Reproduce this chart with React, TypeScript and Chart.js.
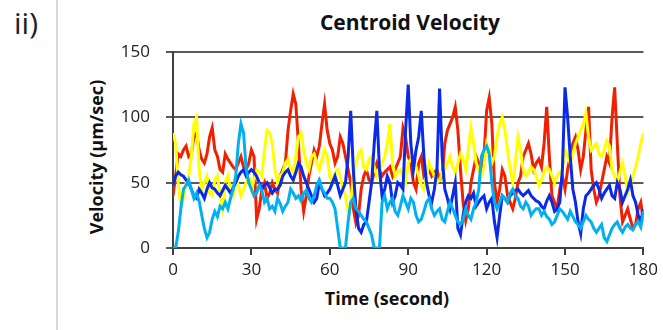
import React, { useEffect, useRef } from "react";
import { Chart, registerables } from "chart.js";

Chart.register(...registerables);

const TITLE = "Centroid Velocity";
const PANEL_LABEL = "ii)";
const X_TITLE = "Time (second)";
const Y_TITLE = "Velocity (µm/sec)";

// sample times (seconds), one sample per second
const TIME_S = Array.from({ length: 181 }, (_, i) => i);

const CYAN = [
  0, 0, 12, 30, 45, 48, 52, 45, 38, 42,
  36, 25, 15, 8, 12, 22, 28, 24, 32, 30,
  35, 30, 38, 45, 55, 80, 95, 88, 60, 50,
  45, 40, 42, 48, 44, 35, 38, 30, 32, 28,
  38, 34, 28, 32, 35, 45, 42, 38, 40, 36,
  42, 44, 38, 35, 40, 48, 52, 45, 42, 38,
  38, 35, 30, 15, 0, 0, 0, 20, 35, 38,
  30, 28, 25, 22, 20, 15, 10, 0, 0, 0,
  35, 40, 30, 35, 38, 28, 25, 32, 40, 35,
  30, 38, 35, 25, 20, 22, 28, 35, 38, 30,
  25, 28, 30, 22, 20, 28, 35, 30, 25, 20,
  18, 22, 30, 25, 22, 30, 35, 45, 70, 75,
  78, 72, 50, 35, 30, 35, 40, 38, 35, 42,
  45, 40, 38, 32, 30, 35, 32, 25, 28, 30,
  30, 25, 28, 24, 22, 18, 20, 25, 30, 28,
  25, 22, 28, 24, 20, 18, 15, 20, 25, 22,
  20, 15, 12, 15, 18, 8, 5, 10, 15, 18,
  20, 15, 12, 16, 18, 15, 14, 18, 20, 16,
  28,
];

const BLUE = [
  48, 55, 58, 56, 55, 52, 50, 45, 40, 38,
  45, 42, 38, 45, 50, 46, 45, 42, 40, 44,
  48, 45, 42, 46, 50, 55, 58, 60, 55, 58,
  60, 58, 55, 50, 45, 48, 50, 46, 42, 45,
  45, 48, 55, 58, 60, 55, 52, 58, 65, 62,
  55, 50, 45, 40, 35, 38, 50, 45, 40, 42,
  45, 50, 55, 48, 40, 45, 50, 70, 105, 60,
  30, 15, 12, 18, 20, 35, 50, 80, 105, 60,
  40, 45, 55, 50, 35, 40, 50, 48, 45, 90,
  125, 80, 60, 75, 85, 105, 70, 50, 40, 35,
  45, 60, 122, 70, 45, 38, 30, 40, 50, 15,
  10, 25, 35, 40, 38, 42, 32, 35, 38, 40,
  30, 35, 38, 20, 8, 25, 40, 38, 35, 40,
  42, 44, 45, 42, 40, 42, 44, 40, 38, 36,
  35, 32, 30, 36, 40, 35, 28, 30, 35, 60,
  123, 100, 70, 45, 35, 20, 11, 30, 40, 42,
  45, 48, 50, 45, 38, 42, 45, 48, 40, 38,
  50, 45, 35, 40, 45, 52, 40, 35, 25, 20,
  30,
];

const YELLOW = [
  88, 80, 50, 32, 38, 50, 55, 70, 95, 100,
  60, 45, 50, 55, 42, 40, 52, 55, 40, 30,
  50, 55, 45, 40, 55, 48, 40, 45, 50, 55,
  45, 52, 60, 58, 55, 75, 90, 88, 80, 60,
  50, 55, 58, 65, 68, 60, 58, 70, 85, 88,
  75, 65, 60, 70, 72, 65, 60, 68, 75, 70,
  55, 50, 58, 60, 55, 45, 40, 28, 35, 55,
  65, 72, 75, 62, 60, 68, 70, 62, 55, 58,
  65, 70, 80, 95, 65, 55, 58, 60, 55, 50,
  65, 68, 70, 62, 55, 48, 45, 55, 65, 60,
  55, 50, 52, 58, 60, 65, 70, 62, 58, 65,
  72, 68, 60, 75, 92, 80, 65, 60, 55, 62,
  80, 75, 65, 70, 85, 95, 100, 90, 75, 60,
  50, 65, 85, 75, 60, 55, 58, 62, 60, 55,
  48, 52, 58, 62, 60, 55, 50, 55, 58, 60,
  75, 70, 65, 72, 80, 85, 90, 95, 103, 85,
  75, 78, 80, 72, 70, 75, 82, 78, 60, 55,
  50, 58, 65, 55, 42, 48, 55, 62, 70, 80,
  88,
];

const RED = [
  40, 55, 72, 70, 75, 78, 70, 72, 85, 88,
  75, 68, 65, 72, 85, 92, 75, 70, 60, 58,
  72, 68, 65, 62, 60, 65, 70, 62, 60, 65,
  75, 70, 22, 30, 45, 50, 38, 42, 50, 45,
  42, 55, 60, 65, 90, 105, 118, 110, 80, 45,
  28, 40, 55, 65, 75, 70, 78, 95, 110, 90,
  80, 75, 65, 70, 85, 80, 70, 60, 50, 30,
  19, 25, 45, 55, 60, 52, 50, 58, 65, 60,
  55, 58, 60, 62, 55, 60, 65, 70, 92, 85,
  70, 65, 50, 45, 65, 70, 55, 58, 60, 55,
  58, 60, 52, 55, 80, 90, 95, 100, 108, 90,
  60, 35, 21, 30, 50, 60, 70, 65, 60, 70,
  105, 115, 95, 50, 35, 45, 60, 55, 40, 35,
  30, 38, 50, 55, 70, 75, 80, 72, 60, 65,
  68, 62, 80, 108, 70, 40, 35, 30, 45, 55,
  45, 60, 70, 80, 85, 75, 60, 70, 90, 108,
  60, 45, 35, 40, 50, 60, 70, 65, 100, 123,
  80, 40, 20, 25, 30, 22, 15, 18, 30, 35,
  20,
];

const X_TICKS = [0, 30, 60, 90, 120, 150, 180];
const Y_TICKS = [0, 50, 100, 150];

const FONT = "'Open Sans', 'DejaVu Sans', sans-serif";

function toPoints(values: number[]) {
  return values.map((v, i) => ({ x: TIME_S[i], y: v }));
}

export default function App() {
  const canvasRef = useRef<HTMLCanvasElement | null>(null);

  useEffect(() => {
    const canvas = canvasRef.current;
    if (!canvas) return;
    const series = [
      { label: "cell 1", data: CYAN, color: "#00B0F0" },
      { label: "cell 2", data: BLUE, color: "#0A2AE8" },
      { label: "cell 3", data: YELLOW, color: "#FFFF00" },
      { label: "cell 4", data: RED, color: "#F02000" },
    ];
    const chart = new Chart(canvas, {
      type: "line",
      data: {
        datasets: series.map((s) => ({
          label: s.label,
          data: toPoints(s.data),
          borderColor: s.color,
          backgroundColor: s.color,
          borderWidth: 3,
          pointRadius: 0,
          tension: 0,
          fill: false,
        })),
      },
      options: {
        animation: false,
        responsive: false,
        maintainAspectRatio: false,
        devicePixelRatio: 1,
        layout: { padding: { left: 80, right: 16, top: 52, bottom: 0 } },
        plugins: {
          legend: { display: false },
          tooltip: { enabled: false },
          title: { display: false },
        },
        scales: {
          x: {
            type: "linear",
            min: 0,
            max: 180,
            afterFit: (s: any) => {
              s.height = 82;
            },
            afterBuildTicks: (s: any) => {
              s.ticks = X_TICKS.map((v) => ({ value: v }));
            },
            ticks: {
              color: "#222",
              font: { family: FONT, size: 17 },
              padding: 5,
              maxRotation: 0,
              autoSkip: false,
            },
            grid: {
              drawOnChartArea: false,
              drawTicks: true,
              tickLength: 7,
              color: "#404040",
              lineWidth: 2,
            },
            border: { display: true, color: "#404040", width: 2 },
            title: { display: false, text: X_TITLE },
          },
          y: {
            type: "linear",
            min: 0,
            max: 150,
            afterFit: (s: any) => {
              s.width = 93;
            },
            afterBuildTicks: (s: any) => {
              s.ticks = Y_TICKS.map((v) => ({ value: v }));
            },
            ticks: {
              color: "#222",
              font: { family: FONT, size: 17 },
              padding: 16,
              autoSkip: false,
            },
            grid: {
              drawTicks: true,
              tickLength: 7,
              color: "#595959",
              lineWidth: 2,
            },
            border: { display: true, color: "#404040", width: 2 },
            title: { display: false, text: Y_TITLE },
          },
        },
      },
    });
    return () => chart.destroy();
  }, []);

  return (
    <div
      style={{
        position: "fixed",
        left: 0,
        top: 0,
        width: 663,
        height: 330,
        background: "#fff",
        overflow: "hidden",
      }}
    >
      <div
        style={{
          position: "absolute",
          left: 56,
          top: 0,
          width: 2,
          height: 330,
          background: "#d9d9d9",
        }}
      />
      <div
        style={{
          position: "absolute",
          left: 14,
          top: 4,
          fontFamily: FONT,
          fontSize: 30,
          color: "#222",
          lineHeight: "38px",
        }}
      >
        {PANEL_LABEL}
      </div>
      <div
        style={{
          position: "absolute",
          left: 173,
          width: 474,
          top: 7,
          textAlign: "center",
          fontFamily: FONT,
          fontSize: 21,
          fontWeight: "bold",
          color: "#111",
          lineHeight: "30px",
        }}
      >
        {TITLE}
      </div>
      <div
        style={{
          position: "absolute",
          left: 287,
          width: 200,
          top: 285,
          textAlign: "center",
          fontFamily: FONT,
          fontSize: 18,
          fontWeight: "bold",
          color: "#111",
          lineHeight: "26px",
        }}
      >
        {X_TITLE}
      </div>
      <div
        style={{
          position: "absolute",
          left: 96 - 100,
          width: 200,
          top: 157 - 13,
          height: 26,
          textAlign: "center",
          fontFamily: FONT,
          fontSize: 18,
          fontWeight: "bold",
          color: "#111",
          lineHeight: "26px",
          transform: "rotate(-90deg)",
          transformOrigin: "50% 50%",
          whiteSpace: "nowrap",
        }}
      >
        {Y_TITLE}
      </div>
      <canvas
        ref={canvasRef}
        width={663}
        height={330}
        style={{ position: "absolute", left: 0, top: 0, width: 663, height: 330 }}
      />
    </div>
  );
}
